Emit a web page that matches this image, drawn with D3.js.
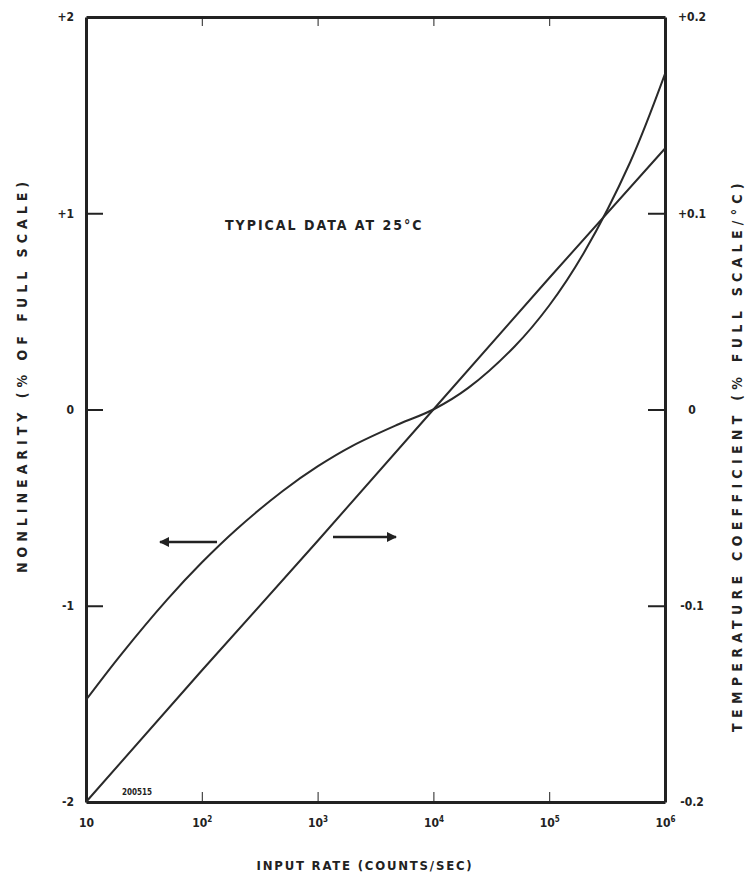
<!DOCTYPE html>
<html>
<head>
<meta charset="utf-8">
<script src="https://cdn.jsdelivr.net/npm/d3@7"></script>
<style>
  body { margin: 0; background: #fff; }
  text { font-family: "DejaVu Sans Condensed", "Liberation Sans Narrow", "Liberation Sans", sans-serif; font-weight: bold; fill: #222; }
</style>
</head>
<body>
<div id="chart"></div>
<script>
// input rates (counts/sec)
const rates = [10, 20, 50, 100, 200, 500, 1000, 2000, 5000, 1e4, 2e4, 5e4, 1e5, 2e5, 5e5, 1e6]
// nonlinearity, % of full scale (left axis)
const nonlinearity = [-1.48, -1.25, -0.97, -0.78, -0.61, -0.415, -0.29, -0.185, -0.075, 0.0, 0.11, 0.32, 0.53, 0.80, 1.26, 1.71]
// temperature coefficient, % full scale / °C (right axis)
const tcRates = [10, 100, 1000, 1e4, 1e5, 1e6]
const tempCoeff = [-0.2, -0.133, -0.067, 0.0, 0.067, 0.133]

const xTicks = [10, 100, 1000, 1e4, 1e5, 1e6]
const xExp = ["", "2", "3", "4", "5", "6"]
const leftTicks = [2, 1, 0, -1, -2]
const leftLabels = ["+2", "+1", "0", "-1", "-2"]
const rightTicks = [0.2, 0.1, 0, -0.1, -0.2]
const rightLabels = ["+0.2", "+0.1", "0", "-0.1", "-0.2"]

const width = 745
const height = 877
const plot = { left: 86, right: 665, top: 17, bottom: 802 }

const svg = d3.select("#chart")
  .append("svg")
  .attr("width", width)
  .attr("height", height)

const x = d3.scaleLog().domain([10, 1e6]).range([plot.left, plot.right])
const yL = d3.scaleLinear().domain([-2, 2]).range([plot.bottom, plot.top])
const yR = d3.scaleLinear().domain([-0.2, 0.2]).range([plot.bottom, plot.top])

// AXES (ticks point inside the frame)
const styleAxis = (g) => {
  g.select(".domain").attr("stroke", "#222").attr("stroke-width", 3)
  g.selectAll(".tick line").attr("stroke", "#222").attr("stroke-width", 2)
  g.selectAll(".tick text").attr("font-size", 12).attr("fill", "#222")
}

svg.append("g")
  .attr("transform", "translate(" + plot.left + ",0)")
  .call(d3.axisLeft(yL).tickValues(leftTicks).tickSizeInner(-17).tickSizeOuter(0).tickPadding(12)
    .tickFormat((d, i) => leftLabels[i]))
  .call(styleAxis)
  .call(g => g.selectAll(".tick line").filter(d => Math.abs(d) == 2).remove())

const rightAxis = svg.append("g")
  .attr("transform", "translate(" + plot.right + ",0)")
  .call(d3.axisRight(yR).tickValues(rightTicks).tickSizeInner(-17).tickSizeOuter(0).tickPadding(27)
    .tickFormat((d, i) => rightLabels[i]))
  .call(styleAxis)
rightAxis.selectAll(".tick line").filter(d => Math.abs(d) > 0.15).remove()
rightAxis.selectAll(".tick text").attr("text-anchor", "middle")

svg.append("g")
  .attr("transform", "translate(0," + plot.top + ")")
  .call(d3.axisTop(x).tickValues(xTicks.slice(1, 5)).tickSizeInner(-9).tickSizeOuter(0).tickFormat(""))
  .call(styleAxis)
  .call(g => g.selectAll(".tick line").attr("stroke-width", 1))

const bottomAxis = svg.append("g")
  .attr("transform", "translate(0," + plot.bottom + ")")
  .call(d3.axisBottom(x).tickValues(xTicks).tickSizeInner(-10).tickSizeOuter(0).tickPadding(10).tickFormat(""))
  .call(styleAxis)
bottomAxis.selectAll(".tick line").attr("stroke-width", 1).filter(d => d == 10 || d == 1e6).remove()

// tick labels with superscript exponents
bottomAxis.selectAll(".tick").each(function (d, i) {
  const t = d3.select(this).append("text")
    .attr("y", 25)
    .attr("text-anchor", "middle")
    .attr("font-size", 12)
  t.append("tspan").text("10")
  if (xExp[i]) {
    t.append("tspan").attr("font-size", 8).attr("dy", -5).text(xExp[i])
  }
})

// CURVES
const nlData = rates.map((r, i) => ({ rate: r, value: nonlinearity[i] }))
const tcData = tcRates.map((r, i) => ({ rate: r, value: tempCoeff[i] }))

svg.append("path")
  .datum(nlData)
  .attr("fill", "none")
  .attr("stroke", "#2a2a2a")
  .attr("stroke-width", 2)
  .attr("d", d3.line().x(d => x(d.rate)).y(d => yL(d.value)).curve(d3.curveCatmullRom.alpha(0.5)))

svg.append("path")
  .datum(tcData)
  .attr("fill", "none")
  .attr("stroke", "#2a2a2a")
  .attr("stroke-width", 2)
  .attr("d", d3.line().x(d => x(d.rate)).y(d => yR(d.value)))

// ARROWS (which axis each curve belongs to)
const defs = svg.append("defs")
defs.append("marker")
  .attr("id", "head")
  .attr("viewBox", "0 0 10 10")
  .attr("refX", 9).attr("refY", 5)
  .attr("markerWidth", 5).attr("markerHeight", 4)
  .attr("orient", "auto")
  .append("path").attr("d", "M0,0 L10,5 L0,10 z").attr("fill", "#222")

svg.append("line")
  .attr("x1", 217).attr("y1", 542).attr("x2", 160).attr("y2", 542)
  .attr("stroke", "#222").attr("stroke-width", 2.5)
  .attr("marker-end", "url(#head)")

svg.append("line")
  .attr("x1", 333).attr("y1", 537).attr("x2", 396).attr("y2", 537)
  .attr("stroke", "#222").attr("stroke-width", 2.5)
  .attr("marker-end", "url(#head)")

// LABELS
svg.append("text")
  .attr("x", 225).attr("y", 230)
  .attr("font-size", 14)
  .attr("letter-spacing", 2)
  .text("TYPICAL DATA AT 25°C")

svg.append("text")
  .attr("x", 122).attr("y", 795)
  .attr("font-size", 8)
  .attr("font-weight", "normal")
  .text("200515")

svg.append("text")
  .attr("x", 365).attr("y", 870)
  .attr("text-anchor", "middle")
  .attr("font-size", 13)
  .attr("letter-spacing", 1.8)
  .text("INPUT RATE (COUNTS/SEC)")

svg.append("text")
  .attr("transform", "translate(27,375) rotate(-90)")
  .attr("text-anchor", "middle")
  .attr("font-size", 14)
  .attr("letter-spacing", 5)
  .text("NONLINEARITY (% OF FULL SCALE)")

svg.append("text")
  .attr("transform", "translate(742,455) rotate(-90)")
  .attr("text-anchor", "middle")
  .attr("font-size", 14)
  .attr("letter-spacing", 5.3)
  .text("TEMPERATURE COEFFICIENT (% FULL SCALE/°C)")
</script>
</body>
</html>
